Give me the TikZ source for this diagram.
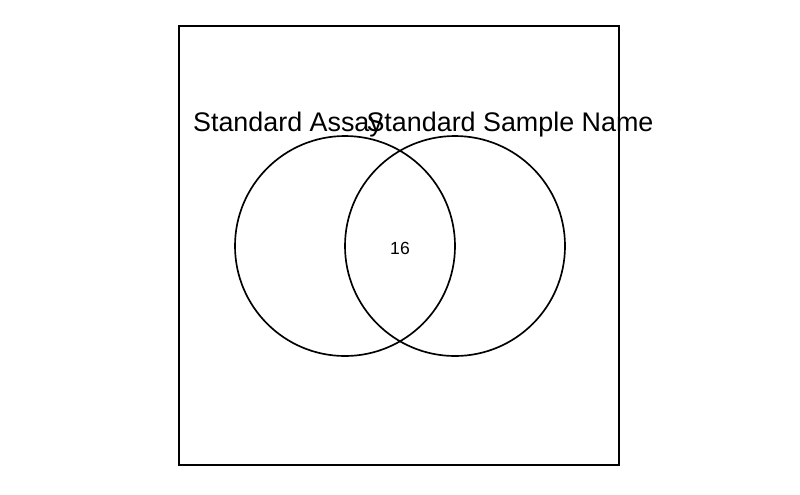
\documentclass[tikz,border=0pt]{standalone}
\usepackage{fontspec}
\setmainfont{Liberation Sans}
\usetikzlibrary{positioning, calc}

\begin{document}
\begin{tikzpicture}[x=0.02cm, y=-0.02cm, line width=0.95pt]

\useasboundingbox (0,0) rectangle (800,494);

% --- Riquadro ---
\draw (179,26) rectangle (619,465);

% --- Insiemi ---
\foreach \cx in {345,455}{
  \draw (\cx,246) circle (110);
}

% --- Etichette ---
\node[anchor=base, inner sep=0pt, font=\fontsize{15.3}{18}\selectfont] (assay) at (288,131) {Standard Assay};
\node[anchor=base, inner sep=0pt, font=\fontsize{15.3}{18}\selectfont] (sample) at (510,131) {Standard Sample Name};
\node[font=\fontsize{10}{12}\selectfont] (inter) at (400,248) {16};

\end{tikzpicture}
\end{document}
